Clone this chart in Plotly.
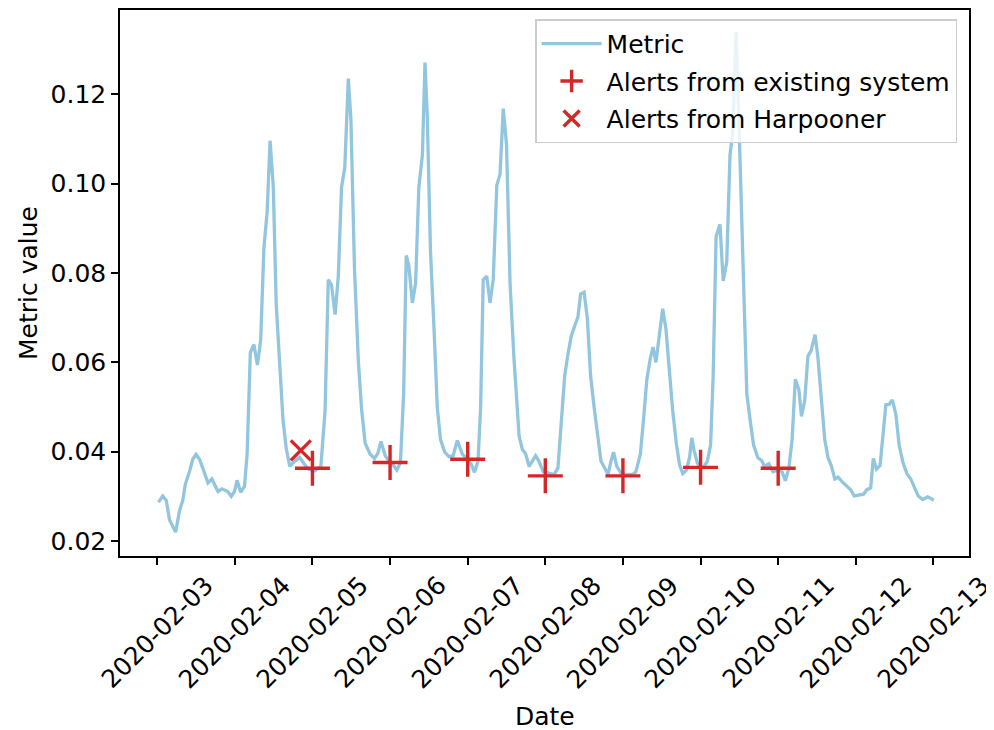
import pandas as pd
import plotly.graph_objects as go

START = pd.Timestamp("2020-02-03")

# Metric series: hour offsets from 2020-02-03 00:00 and metric values
metric_hours = [0.4, 1.7, 2.8, 3.8, 5.7, 6.9, 7.9, 8.7, 10, 11, 12, 13.1, 14.4, 15.7, 16.9, 18.8, 20, 21.8, 22.9, 23.9,
                24.7, 25.8, 27, 27.8, 28.8, 29.9, 31, 32, 33, 34, 34.9, 35.9, 36.8, 37.9, 38.9, 39.9, 41, 42.5, 44.1,
                45.4, 46.7, 48.7, 50.6, 51.9, 52.9, 53.9, 55, 56, 57, 58, 59.1, 59.9, 61, 62.2, 63.2, 64.3, 65.8, 67.2,
                68.2, 69.2, 70.5, 72, 73.1, 74.1, 75.2, 76.2, 77.0, 77.8, 78.9, 79.9, 80.9, 82.0, 82.8, 83.5, 84.5,
                85.6, 86.6, 87.6, 88.9, 90.2, 91.5, 92.8, 94.3, 95.9, 97.1, 98.1, 99.2, 100.0, 100.8, 101.9, 102.9,
                103.9, 105.0, 106.0, 107.0, 108.0, 109.1, 110.3, 111.9, 112.9, 113.9, 115.0, 116.0, 117.0, 118.0,
                119.4, 121.1, 122.7, 123.9, 124.9, 126.0, 127.0, 128.0, 129.1, 130.1, 130.9, 132.0, 133.0, 134.0,
                135.1, 136.1, 137.2, 138.4, 139.4, 140.3, 141.1, 142.1, 143.4, 144.9, 147.0, 148.0, 149.4, 150.4,
                151.4, 152.5, 153.3, 154.2, 155.3, 156.3, 157.3, 158.4, 159.4, 160.5, 161.5, 162.5, 163.6, 164.6,
                165.3, 166.0, 167.0, 168.0, 169.1, 170.1, 171.1, 171.9, 172.8, 174.0, 175.0, 176.1, 177.1, 177.9,
                179.0, 180.0, 181.3, 182.3, 183.4, 184.4, 185.7, 187.0, 187.7, 189.1, 190.4, 192.2, 193.2, 194.2,
                195.3, 196.3, 197.3, 198.4, 199.2, 200.2, 201.2, 202.2, 203.4, 204.3, 205.4, 206.4, 207.4, 208.5,
                209.5, 210.5, 211.9, 213.2, 214.4, 215.5, 217.0, 218.4, 219.4, 220.6, 221.4, 222.4, 223.5, 224.2,
                225.3, 226.3, 227.3, 228.4, 229.4, 230.6, 231.8, 233.0, 234.1, 235.3, 236.7, 238.2, 239.3, 240.1]
metric_values = [0.0287, 0.0301, 0.0291, 0.0248, 0.0220, 0.0268, 0.0291, 0.0327, 0.0356, 0.0383, 0.0394, 0.0383,
                 0.0357, 0.0330, 0.0339, 0.0311, 0.0317, 0.0311, 0.0300, 0.0311, 0.0336, 0.0309, 0.0323, 0.0395,
                 0.0622, 0.0640, 0.0594, 0.0650, 0.0857, 0.0937, 0.1096, 0.0992, 0.0729, 0.0586, 0.0471, 0.0407,
                 0.0367, 0.0379, 0.0387, 0.0373, 0.0361, 0.0357, 0.0367, 0.0491, 0.0785, 0.0773, 0.0707, 0.0793,
                 0.0992, 0.1036, 0.1235, 0.1143, 0.0809, 0.0602, 0.0495, 0.0419, 0.0395, 0.0385, 0.0396, 0.0423,
                 0.0391, 0.0375, 0.0369, 0.0359, 0.0375, 0.0530, 0.0839, 0.0817, 0.0733, 0.0777, 0.0992, 0.1064,
                 0.1271, 0.1152, 0.0849, 0.0674, 0.0499, 0.0427, 0.0399, 0.0389, 0.0391, 0.0425, 0.0395, 0.0383,
                 0.0372, 0.0354, 0.0379, 0.0499, 0.0785, 0.0793, 0.0733, 0.0785, 0.0996, 0.1021, 0.1168, 0.1088,
                 0.0777, 0.0610, 0.0435, 0.0405, 0.0396, 0.0367, 0.0379, 0.0391, 0.0379, 0.0355, 0.0352, 0.0349,
                 0.0363, 0.0459, 0.0570, 0.0618, 0.0658, 0.0682, 0.0702, 0.0753, 0.0757, 0.0698, 0.0570, 0.0499,
                 0.0435, 0.0379, 0.0363, 0.0349, 0.0379, 0.0399, 0.0367, 0.0352, 0.0349, 0.0349, 0.0355, 0.0395,
                 0.0475, 0.0562, 0.0610, 0.0634, 0.0600, 0.0666, 0.0720, 0.0674, 0.0578, 0.0491, 0.0419, 0.0371,
                 0.0351, 0.0359, 0.0387, 0.0431, 0.0403, 0.0375, 0.0363, 0.0367, 0.0379, 0.0415, 0.0570, 0.0881,
                 0.0909, 0.0782, 0.0825, 0.1064, 0.1112, 0.1339, 0.1104, 0.0753, 0.0530, 0.0467, 0.0415, 0.0387,
                 0.0379, 0.0367, 0.0373, 0.0355, 0.0359, 0.0355, 0.0335, 0.0363, 0.0427, 0.0562, 0.0539, 0.0479,
                 0.0514, 0.0614, 0.0626, 0.0662, 0.0610, 0.0514, 0.0427, 0.0387, 0.0367, 0.0339, 0.0343, 0.0332,
                 0.0322, 0.0315, 0.0301, 0.0303, 0.0305, 0.0315, 0.0319, 0.0385, 0.0361, 0.0369, 0.0427, 0.0505,
                 0.0506, 0.0516, 0.0483, 0.0415, 0.0375, 0.0351, 0.0339, 0.0319, 0.0301, 0.0293, 0.0299, 0.0295,
                 0.0291]

# Alerts from the existing system
existing_dates = ["2020-02-05", "2020-02-06", "2020-02-07", "2020-02-08", "2020-02-09", "2020-02-10", "2020-02-11"]
existing_values = [0.0363, 0.0376, 0.0383, 0.0346, 0.0346, 0.0365, 0.0363]

# Alerts from Harpooner
harpooner_dates = ["2020-02-04 20:24"]
harpooner_values = [0.0403]

# Tick labels
x_tick_labels = ["2020-02-03", "2020-02-04", "2020-02-05", "2020-02-06", "2020-02-07", "2020-02-08",
                 "2020-02-09", "2020-02-10", "2020-02-11", "2020-02-12", "2020-02-13"]
y_tick_values = [0.02, 0.04, 0.06, 0.08, 0.10, 0.12]
y_tick_labels = ["0.02", "0.04", "0.06", "0.08", "0.10", "0.12"]

metric_times = [START + pd.Timedelta(hours=h) for h in metric_hours]

FONT = "DejaVu Sans"
FS = 25
LINE_BLUE = "#92c5de"
RED = "#d62728"

fig = go.Figure()
fig.add_trace(go.Scatter(x=metric_times, y=metric_values, mode="lines", name="Metric",
                         line=dict(color=LINE_BLUE, width=3.3), legendgroup="a"))
fig.add_trace(go.Scatter(x=pd.to_datetime(existing_dates), y=existing_values, mode="markers",
                         name="Alerts from existing system", legendgroup="b",
                         marker=dict(symbol="cross-thin-open", size=25, color=RED,
                                     line=dict(color=RED, width=3.4))))
fig.add_trace(go.Scatter(x=pd.to_datetime(harpooner_dates), y=harpooner_values, mode="markers",
                         name="Alerts from Harpooner", legendgroup="c",
                         marker=dict(symbol="x-thin-open", size=20, color=RED,
                                     line=dict(color=RED, width=3.4))))

# Rotated, centred date labels under each tick
for lab in x_tick_labels:
    fig.add_annotation(x=pd.Timestamp(lab), y=-0.1405, xref="x", yref="paper", text=lab,
                       textangle=-45, showarrow=False, xanchor="center", yanchor="middle",
                       font=dict(family=FONT, size=FS, color="black"))
fig.add_annotation(x=0.5, y=-0.294, xref="paper", yref="paper", text="Date", showarrow=False,
                   xanchor="center", yanchor="middle", font=dict(family=FONT, size=FS, color="black"))

fig.update_layout(
    width=986, height=722,
    margin=dict(l=112, r=25, t=0, b=174),
    plot_bgcolor="white", paper_bgcolor="white",
    font=dict(family=FONT, size=FS, color="black"),
    showlegend=True,
    legend=dict(x=0.986, y=0.983, xanchor="right", yanchor="top",
                bgcolor="rgba(255,255,255,0.8)", bordercolor="#cccccc", borderwidth=1.5,
                font=dict(family=FONT, size=FS), tracegroupgap=2, traceorder="grouped",
                itemwidth=60),
    xaxis=dict(type="date",
               range=[START - pd.Timedelta(hours=11.5), START + pd.Timedelta(hours=251)],
               tickvals=pd.to_datetime(x_tick_labels), showticklabels=False,
               ticks="outside", ticklen=7, tickwidth=1.5, tickcolor="black",
               showline=True, linecolor="black", linewidth=1.5, mirror=True,
               showgrid=False, zeroline=False),
    yaxis=dict(range=[0.01666, 0.13885], tickvals=y_tick_values, ticktext=y_tick_labels,
               ticks="outside", ticklen=7, tickwidth=1.5, tickcolor="black",
               showline=True, linecolor="black", linewidth=1.5, mirror=True,
               showgrid=False, zeroline=False,
               title=dict(text="Metric value", font=dict(family=FONT, size=FS), standoff=6),
               tickfont=dict(family=FONT, size=FS)),
)

fig.write_html("out.html")
